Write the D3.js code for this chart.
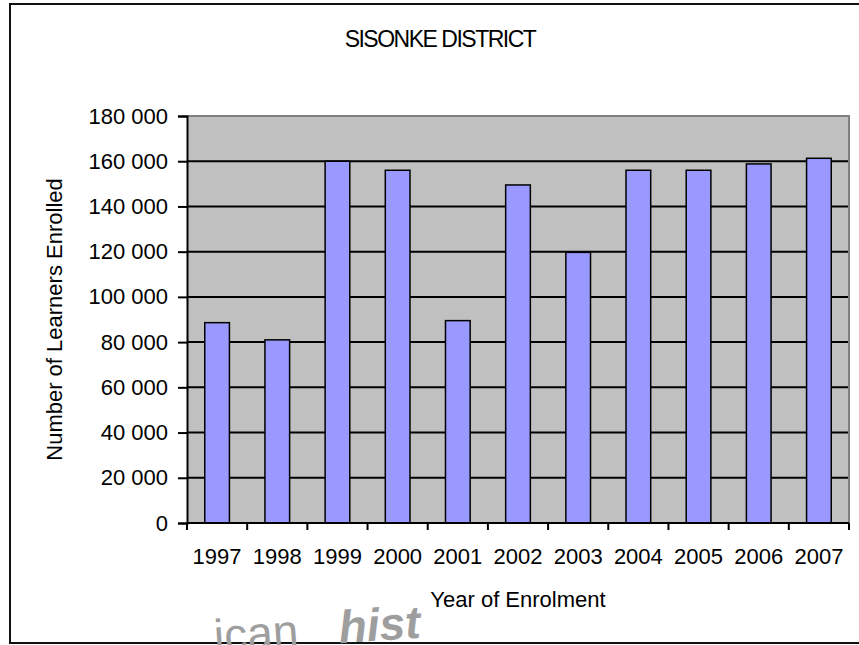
<!DOCTYPE html>
<html>
<head>
<meta charset="utf-8">
<script src="https://cdn.jsdelivr.net/npm/d3@7"></script>
<style>
  body { margin: 0; background: #fff; }
  text { font-family: "Liberation Sans", Arial, sans-serif; fill: #000; }
</style>
</head>
<body>
<div id="chart"></div>
<script>
// data
var years = ["1997", "1998", "1999", "2000", "2001", "2002", "2003", "2004", "2005", "2006", "2007"];
var learners = [88600, 81000, 160000, 156000, 89500, 149500, 119700, 156000, 156000, 158800, 161300];
var yTicks = [0, 20000, 40000, 60000, 80000, 100000, 120000, 140000, 160000, 180000];

var data = years.map(function(y, i) { return { year: y, value: learners[i] }; });

var W = 859, H = 645;
var margin = { top: 116, right: 10, bottom: 122, left: 187 };
var width = 849 - margin.left,
    height = 523 - margin.top;

var svg = d3.select("#chart").append("svg")
    .attr("width", W)
    .attr("height", H);

// outer frame
svg.append("rect")
    .attr("x", 10).attr("y", 4)
    .attr("width", 870).attr("height", 639)
    .attr("fill", "none")
    .attr("stroke", "#111")
    .attr("stroke-width", 2);

// watermark at the bottom (cut by the frame, as in the source)
var wm = svg.append("g")
    .attr("transform", "translate(215,652) rotate(-4)");
wm.append("text").attr("x", 0).attr("y", 0)
    .style("font-size", "46px").style("fill", "#9e9e9e")
    .text("ican");
wm.append("text").attr("x", 125).attr("y", 0)
    .style("font-size", "46px").style("font-style", "italic").style("font-weight", "bold")
    .style("fill", "#9e9e9e")
    .text("hist");

var g = svg.append("g")
    .attr("transform", "translate(" + margin.left + "," + margin.top + ")");

var x = d3.scaleBand()
    .domain(years)
    .range([0, width])
    .paddingInner(0.59)
    .paddingOuter(0.295);

var y = d3.scaleLinear()
    .domain([0, 180000])
    .range([height, 0]);

// plot area
g.append("rect")
    .attr("width", width)
    .attr("height", height)
    .attr("fill", "#c0c0c0");

// gridlines
g.selectAll(".grid")
    .data(yTicks.filter(function(d) { return d > 0 && d < 180000; }))
    .enter().append("line")
    .attr("class", "grid")
    .attr("x1", 0).attr("x2", width)
    .attr("y1", function(d) { return y(d); })
    .attr("y2", function(d) { return y(d); })
    .attr("stroke", "#000")
    .attr("stroke-width", 2);

// top / right border of plot area
g.append("path")
    .attr("d", "M0," + y(180000) + "H" + width + "V" + height)
    .attr("fill", "none")
    .attr("stroke", "#808080")
    .attr("stroke-width", 2);

// bars
g.selectAll(".bar")
    .data(data)
    .enter().append("rect")
    .attr("class", "bar")
    .attr("x", function(d) { return x(d.year); })
    .attr("y", function(d) { return y(d.value); })
    .attr("width", x.bandwidth())
    .attr("height", function(d) { return height - y(d.value); })
    .attr("fill", "#9999ff")
    .attr("stroke", "#000")
    .attr("stroke-width", 1.5);

var fmt = function(d) { return d3.format(",")(d).replace(/,/g, " "); };

// y axis
var yAxis = g.append("g")
    .call(d3.axisLeft(y).tickValues(yTicks).tickFormat(fmt).tickSize(9).tickPadding(10));
yAxis.select(".domain").attr("stroke", "#000").attr("stroke-width", 2);
yAxis.selectAll(".tick line").attr("stroke", "#000").attr("stroke-width", 2);
yAxis.selectAll("text").style("font-size", "22px").attr("fill", "#000");

// x axis, ticks sit on category edges
var xEdge = d3.scaleLinear().domain([0, years.length]).range([0, width]);
var xAxis = g.append("g")
    .attr("transform", "translate(0," + height + ")");
xAxis.append("line")
    .attr("x1", 0).attr("x2", width)
    .attr("stroke", "#000").attr("stroke-width", 2);
xAxis.selectAll(".xt")
    .data(d3.range(years.length + 1))
    .enter().append("line")
    .attr("class", "xt")
    .attr("x1", function(d) { return xEdge(d); })
    .attr("x2", function(d) { return xEdge(d); })
    .attr("y1", 0).attr("y2", 7)
    .attr("stroke", "#000").attr("stroke-width", 2);
xAxis.selectAll(".xl")
    .data(years)
    .enter().append("text")
    .attr("class", "xl")
    .attr("x", function(d) { return x(d) + x.bandwidth() / 2; })
    .attr("y", 41)
    .attr("text-anchor", "middle")
    .style("font-size", "22px")
    .text(function(d) { return d; });

// titles
svg.append("text")
    .attr("x", 440).attr("y", 47)
    .attr("text-anchor", "middle")
    .style("font-size", "23px")
    .style("letter-spacing", "-1.5px")
    .text("SISONKE DISTRICT");

svg.append("text")
    .attr("x", margin.left + width / 2).attr("y", 607)
    .attr("text-anchor", "middle")
    .style("font-size", "22px")
    .text("Year of Enrolment");

svg.append("text")
    .attr("transform", "translate(62," + (margin.top + height / 2) + ") rotate(-90)")
    .attr("text-anchor", "middle")
    .style("font-size", "22px")
    .text("Number of Learners Enrolled");
</script>
</body>
</html>
